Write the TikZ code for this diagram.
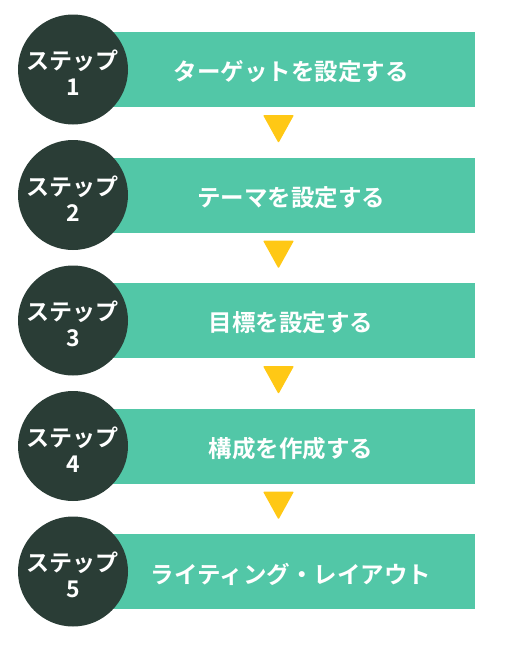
\documentclass[tikz,border=0pt]{standalone}
\usepackage{fontspec}
\setmainfont{Noto Sans CJK JP}[BoldFont={Noto Sans CJK JP Bold}]
\usetikzlibrary{shapes}

\definecolor{stepgreen}{HTML}{52C7A7}
\definecolor{stepdark}{HTML}{2A3D36}
\definecolor{stepyellow}{HTML}{FFC815}

\tikzset{
  band/.style={rectangle, fill=stepgreen, minimum width=370pt, minimum height=75pt, inner sep=0pt},
  bandtext/.style={text=white, font=\fontsize{23.5}{26}\selectfont\bfseries},
  badge/.style={circle, fill=stepdark, minimum size=110pt, inner sep=0pt},
  badgetext/.style={text=white, align=center, font=\fontsize{23}{26}\selectfont\bfseries},
  marker/.style={fill=stepyellow, rounded corners=1pt}
}

\begin{document}
\begin{tikzpicture}[x=1pt, y=-1pt]
\useasboundingbox (0,0) rectangle (509,645);

\node[band] (b1) at (290,69.5) {};
\node[band] (b2) at (290,195) {};
\node[band] (b3) at (290,320.5) {};
\node[band] (b4) at (290,446) {};
\node[band] (b5) at (290,571.5) {};

\node[bandtext] (t1) at (291,72) {ターゲットを設定する};
\node[bandtext] (t2) at (291,197.5) {テーマを設定する};
\node[bandtext] (t3) at (291,323) {目標を設定する};
\node[bandtext] (t4) at (291,448.5) {構成を作成する};
\node[bandtext] (t5) at (291,574) {ライティング・レイアウト};

\node[badge] (s1) at (73,69.5) {};
\node[badge] (s2) at (73,195) {};
\node[badge] (s3) at (73,320.5) {};
\node[badge] (s4) at (73,446) {};
\node[badge] (s5) at (73,571.5) {};

\node[badgetext] (c1) at (73,73) {ステップ\\1};
\node[badgetext] (c2) at (73,198.5) {ステップ\\2};
\node[badgetext] (c3) at (73,324) {ステップ\\3};
\node[badgetext] (c4) at (73,449.5) {ステップ\\4};
\node[badgetext] (c5) at (73,575) {ステップ\\5};

% arrows between the steps
\fill[marker] (263,115) -- (294,115) -- (278.5,143) -- cycle;
\fill[marker] (263,240.5) -- (294,240.5) -- (278.5,268.5) -- cycle;
\fill[marker] (263,366) -- (294,366) -- (278.5,394) -- cycle;
\fill[marker] (263,491.5) -- (294,491.5) -- (278.5,519.5) -- cycle;
\end{tikzpicture}
\end{document}
